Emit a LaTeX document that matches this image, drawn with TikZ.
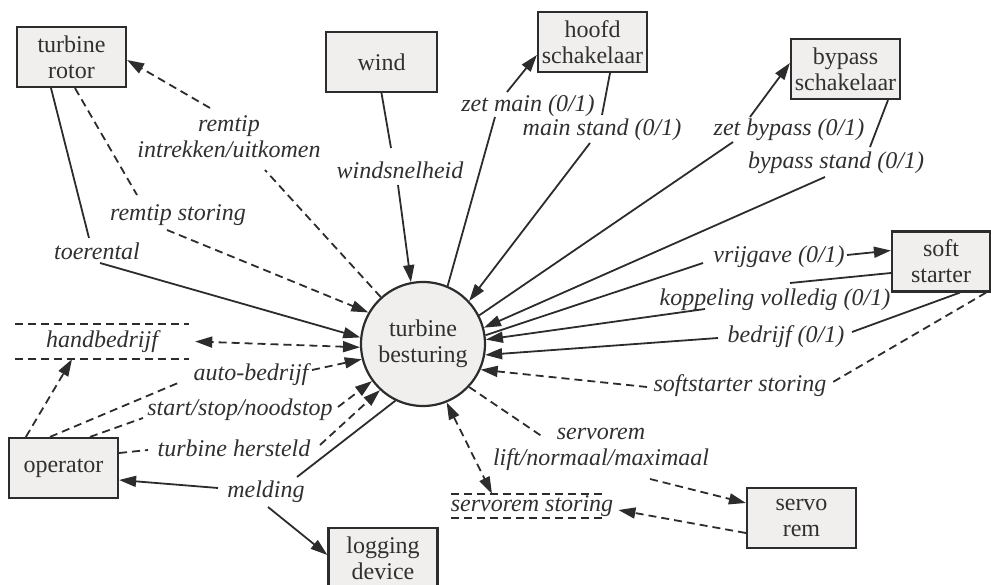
\documentclass[tikz,border=0pt]{standalone}
\usepackage{fontspec}
\setmainfont{Liberation Serif}
\usetikzlibrary{arrows.meta}
\definecolor{boxfill}{HTML}{F0EFEE}
\definecolor{ink}{HTML}{2C2C2C}
\definecolor{txt}{HTML}{303030}

\begin{document}
\begin{tikzpicture}[x=1pt,y=1pt,
  font=\fontsize{24}{26}\selectfont,
  every node/.style={text=txt},
  ent/.style={draw=ink, line width=2.2pt, fill=boxfill, minimum width=109pt,
    minimum height=60pt, inner sep=0pt, align=center},
  proc/.style={circle, draw=ink, line width=2.2pt, fill=boxfill,
    minimum size=124pt, inner sep=0pt, align=center},
  lbl/.style={font=\fontsize{24}{26}\selectfont\itshape, inner sep=0pt, align=center},
  flow/.style={draw=ink, line width=1.8pt},
  ctrl/.style={flow, dash pattern=on 8pt off 5pt},
  arr/.style={-{Triangle[length=17pt,width=11pt]}},
  darr/.style={{Triangle[length=17pt,width=11pt]}-{Triangle[length=17pt,width=11pt]}},
]
\useasboundingbox (0,0) rectangle (991,-585);

% external entities
\node[ent] (rotor) at (71.5,-57) {turbine\\rotor};
\node[ent, minimum width=111pt] (wind) at (381.5,-62) {wind};
\node[ent] (hoofd) at (592.5,-42) {hoofd\\schakelaar};
\node[ent] (bypass) at (845.5,-69) {bypass\\schakelaar};
\node[ent, minimum width=98pt] (soft) at (941,-261.5) {soft\\starter};
\node[ent] (oper) at (63.5,-468) {operator};
\node[ent] (logdev) at (383,-558) {logging\\device};
\node[ent] (servo) at (801.5,-518) {servo\\rem};

% central process
\node[proc] (ctl) at (423,-344) {turbine\\besturing};

% data stores
\node[lbl, minimum width=174pt, minimum height=35pt] (hand) at (102,-341.5) {handbedrijf};
\draw[ctrl] (hand.north west) -- (hand.north east) (hand.south west) -- (hand.south east);
\node[lbl, minimum height=24pt] (sstor) at (532,-506) {servorem storing};
\draw[ctrl] (sstor.north west) -- ([xshift=-10pt]sstor.north east)
            (sstor.south west) -- ([xshift=-10pt]sstor.south east);

% flow labels
\node[lbl] (lToer) at (97,-251) {toerental};
\node[lbl] (lRemSt) at (178,-215) {remtip storing};
\node[lbl] (lRemIn) at (229,-137) {remtip\\intrekken/uitkomen};
\node[lbl] (lWind) at (400,-170) {windsnelheid};
\node[lbl] (lZetMain) at (528,-106) {zet main (0/1)};
\node[lbl] (lMainSt) at (602,-130) {main stand (0/1)};
\node[lbl] (lZetBy) at (789,-130) {zet bypass (0/1)};
\node[lbl] (lBySt) at (836,-163) {bypass stand (0/1)};
\node[lbl] (lVrij) at (779,-257) {vrijgave (0/1)};
\node[lbl] (lKop) at (775,-300) {koppeling volledig (0/1)};
\node[lbl] (lBedr) at (786,-337) {bedrijf (0/1)};
\node[lbl] (lSSt) at (740,-386) {softstarter storing};
\node[lbl] (lServo) at (601,-449) {servorem\\lift/normaal/maximaal};
\node[lbl] (lMeld) at (266,-492) {melding};
\node[lbl] (lHerst) at (234,-448) {turbine hersteld};
\node[lbl] (lStart) at (240,-410) {start/stop/noodstop};
\node[lbl] (lAuto) at (251,-375) {auto-bedrijf};

% turbine rotor
\draw[flow] ([xshift=-20.5pt]rotor.south) -- ([shift={(-8,13)}]lToer.center);
\draw[flow,arr] ([shift={(3,-12)}]lToer.center) -- (ctl.174);
\draw[ctrl] ([xshift=3.5pt]rotor.south) -- ([shift={(-41,20)}]lRemSt.center);
\draw[ctrl,arr] ([shift={(-11,-15)}]lRemSt.center) -- (ctl.150);
\draw[ctrl] (ctl.132) -- ([shift={(36,-33)}]lRemIn.center);
\draw[ctrl,arr] ([shift={(-19,29)}]lRemIn.center) -- ([yshift=-3pt]rotor.east);

% wind
\draw[flow] (wind.south) -- ([shift={(-9,22)}]lWind.center);
\draw[flow,arr] ([shift={(-2,-15)}]lWind.center) -- (ctl.101);

% hoofdschakelaar
\draw[flow] (ctl.67) -- ([shift={(-33,-11)}]lZetMain.center);
\draw[flow,arr] ([shift={(-21,14)}]lZetMain.center) -- ([yshift=-13pt]hoofd.west);
\draw[flow] ([xshift=17.5pt]hoofd.south) -- ([shift={(0,15)}]lMainSt.center);
\draw[flow,arr] ([shift={(-12,-13)}]lMainSt.center) -- (ctl.43);

% bypassschakelaar
\draw[flow] (ctl.27) -- ([shift={(-56,-12)}]lZetBy.center);
\draw[flow,arr] ([shift={(-39,13)}]lZetBy.center) -- ([yshift=6pt]bypass.west);
\draw[flow] ([xshift=42.5pt]bypass.south) -- ([shift={(34,16)}]lBySt.center);
\draw[flow,arr] ([shift={(-11,-14)}]lBySt.center) -- (ctl.15);

% soft starter
\draw[flow] (ctl.8) -- ([shift={(-76,-6)}]lVrij.center);
\draw[flow,arr] ([shift={(68,2)}]lVrij.center) -- ([yshift=11pt]soft.west);
\draw[flow] ([yshift=-11.5pt]soft.west) -- ([shift={(15,17)}]lKop.center);
\draw[flow,arr] ([shift={(-70,-9)}]lKop.center) -- (ctl.4);
\draw[flow] ([xshift=19pt]soft.south) -- ([shift={(66,5)}]lBedr.center);
\draw[flow,arr] ([shift={(-68,-1)}]lBedr.center) -- (ctl.350);
\draw[ctrl] ([xshift=-5pt]soft.south east) -- ([shift={(93,4)}]lSSt.center);
\draw[ctrl,arr] ([shift={(-93,-1)}]lSSt.center) -- (ctl.336);

% servo rem
\draw[ctrl] (ctl.317) -- ([shift={(-58,12)}]lServo.center);
\draw[ctrl,arr] ([shift={(49,-30)}]lServo.center) -- ([yshift=15pt]servo.west);
\draw[ctrl,arr] ([yshift=-15pt]servo.west) -- ([xshift=5pt,yshift=-4pt]sstor.east);
\draw[ctrl,darr] (ctl.292) -- ([xshift=-40pt]sstor.north);

% operator
\draw[ctrl,darr] (ctl.183) -- ([xshift=6pt]hand.east);
\draw[ctrl,arr] ([xshift=18pt]oper.north west) -- ([xshift=-30pt]hand.south);
\draw[ctrl] ([xshift=-13.5pt]oper.north) -- ([shift={(-73,-8)}]lAuto.center);
\draw[ctrl,arr] ([shift={(61,5)}]lAuto.center) -- (ctl.194);
\draw[ctrl] ([xshift=26.5pt]oper.north) -- ([shift={(-97,-8)}]lStart.center);
\draw[ctrl,arr] ([shift={(98,3)}]lStart.center) -- (ctl.216);
\draw[ctrl] ([yshift=15pt]oper.east) -- ([shift={(-86,-2)}]lHerst.center);
\draw[ctrl,arr] ([shift={(86,3)}]lHerst.center) -- (ctl.227);

% meldingen
\draw[flow] (ctl.244) -- ([shift={(31,15)}]lMeld.center);
\draw[flow,arr] ([shift={(-48,4)}]lMeld.center) -- ([yshift=-12pt]oper.east);
\draw[flow,arr] ([shift={(2,-15)}]lMeld.center) -- ([yshift=3pt]logdev.west);
\end{tikzpicture}
\end{document}
